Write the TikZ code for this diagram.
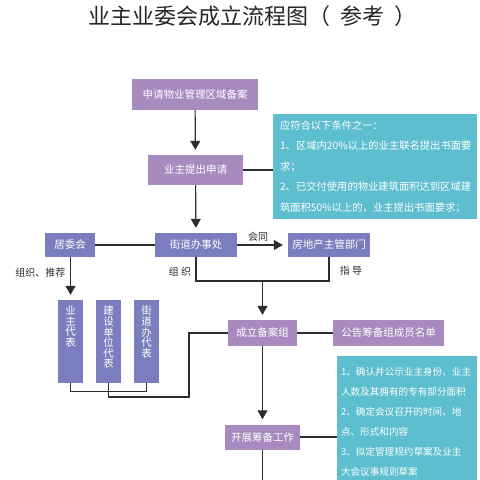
\documentclass[tikz,border=0pt]{standalone}
\usepackage{fontspec}
\newfontfamily\cjk{Noto Sans CJK SC}
\usetikzlibrary{arrows.meta,positioning}
\definecolor{boxpurple}{RGB}{167,139,192}
\definecolor{boxblue}{RGB}{122,126,190}
\definecolor{boxcyan}{RGB}{92,190,206}
\definecolor{linegray}{RGB}{45,45,45}
\tikzset{
  purplebox/.style={fill=boxpurple, text=white, inner sep=0pt, font=\cjk\fontsize{10.5}{12}\selectfont},
  bluebox/.style={fill=boxblue, text=white, inner sep=0pt, minimum height=24pt, font=\cjk\fontsize{10.5}{12}\selectfont},
  cyanbox/.style={fill=boxcyan, text=white, align=left, inner ysep=0pt},
  repbox/.style={fill=boxblue, minimum width=25pt, minimum height=83pt, inner sep=0pt},
  reptext/.style={text=white, align=center, inner sep=0pt, anchor=north, font=\cjk\fontsize{10.5}{10.6}\selectfont},
  conn/.style={draw=linegray, line width=1.2pt},
  arr/.style={conn, -{Triangle[width=10pt,length=9pt]}, shorten >=5pt},
  lbl/.style={text=linegray, inner sep=0pt, font=\cjk\fontsize{10}{12}\selectfont}
}
\begin{document}
\begin{tikzpicture}[x=10pt,y=-10pt]
    	\clip (0,0) rectangle (48,48);
    	\node[text=black!85, font=\cjk\fontsize{22}{24}\selectfont] (title) at (25.25,1.6) {业主业委会成立流程图（\hspace{0.45em}参考\hspace{0.45em}）};
    	
    	\node[purplebox, minimum width=126pt, minimum height=31pt] (apply) at (19.5,9.45) {申请物业管理区域备案};
    	\node[purplebox, minimum width=95pt, minimum height=30pt] (ownapp) at (19.55,17) {业主提出申请};
    	\node[cyanbox, minimum width=204pt, minimum height=105pt, text width=190pt, inner xsep=7pt, font=\cjk\fontsize{10.3}{20.5}\selectfont] (cond1) at (37.5,16.65) {应符合以下条件之一：\\1、区域内20\%以上的业主联名提出书面要\\求；\\2、已交付使用的物业建筑面积达到区域建\\筑面积50\%以上的，业主提出书面要求；};
    	
    	\node[bluebox, minimum width=50pt] (jwh) at (7,24.5) {居委会};
    	\node[bluebox, minimum width=82pt] (jd) at (19.6,24.5) {街道办事处};
    	\node[bluebox, minimum width=82pt] (fdc) at (32.9,24.5) {房地产主管部门};
    	
    	\node[repbox] (rep1) at (7.05,34.15) {};
    	\node[repbox] (rep2) at (10.85,34.15) {};
    	\node[repbox] (rep3) at (14.65,34.15) {};
    	\node[reptext, yshift=-6pt] (rep1t) at (rep1.north) {业\\主\\代\\表};
    	\node[reptext, yshift=-6pt] (rep2t) at (rep2.north) {建\\设\\单\\位\\代\\表};
    	\node[reptext, yshift=-6pt] (rep3t) at (rep3.north) {街\\道\\办\\代\\表};
    	
    	\node[purplebox, minimum width=69pt, minimum height=26pt] (prep) at (26.25,33.3) {成立备案组};
    	\node[purplebox, minimum width=111pt, minimum height=26pt] (notice) at (38.85,33.3) {公告筹备组成员名单};
    	\node[purplebox, minimum width=75pt, minimum height=25pt] (work) at (26.25,43.7) {开展筹备工作};
    	\node[cyanbox, minimum width=140pt, minimum height=132pt, text width=132pt, inner xsep=4pt, font=\cjk\fontsize{9.6}{20}\selectfont] (cond2) at (40.7,42.2) {1、确认并公示业主身份、业主\\人数及其拥有的专有部分面积\\2、确定会议召开的时间、地\\点、形式和内容\\3、拟定管理规约草案及业主\\大会议事规则草案};
    	
    	\coordinate (join) at (26.25,28.1);
    	\coordinate (bend) at (18.9,39.7);
    	\coordinate (bottom) at (26.25,49);
    	
    	\draw[arr] (apply) -- (ownapp);
    	\draw[conn] (ownapp.east) -- (ownapp.east -| cond1.west);
    	\draw[arr] (ownapp) -- (jd);
    	\draw[conn] (jwh) -- (jd);
    	\draw[arr] (jd) -- (fdc);
    	\draw[arr] (jwh.south -| rep1.north) -- (rep1.north);
    	\draw[conn] (jd.south) |- (join) -| (fdc.south);
    	\draw[arr] (join) -- (prep);
    	\draw[conn] (rep1.south) -- ++(0,0.8) -| (rep3.south);
    	\draw[conn] (rep2.south) |- (bend) |- (prep.west);
    	\draw[conn] (prep) -- (notice);
    	\draw[arr] (prep) -- (work);
    	\draw[conn] (work.east) -- (work.east -| cond2.west);
    	\draw[conn] (work.south) -- (bottom);
    	
    	\node[lbl] (lhuitong) at (25.8,23.7) {会同};
    	\node[lbl] (ltuijian) at (4.05,27.3) {组织、推荐};
    	\node[lbl] (lzuzhi) at (18,27.2) {组 织};
    	\node[lbl] (lzhidao) at (35.1,27.1) {指 导};
\end{tikzpicture}
\end{document}
